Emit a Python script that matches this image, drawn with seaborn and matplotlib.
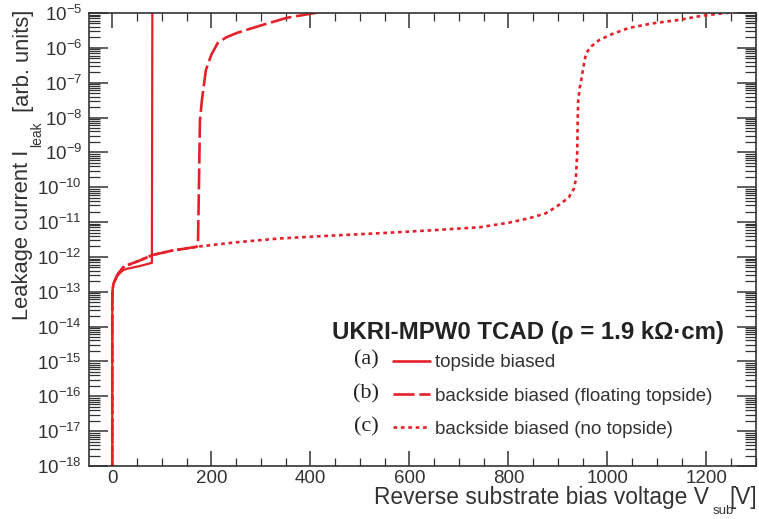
import numpy as np
import pandas as pd
import matplotlib
matplotlib.use("Agg")
import matplotlib.pyplot as plt
import seaborn as sns
from matplotlib.ticker import MultipleLocator, LogLocator, NullFormatter, LogFormatterSciNotation

# ---------------- data ----------------
labels = ["topside biased",
          "backside biased (floating topside)",
          "backside biased (no topside)"]
tags = ["(a)", "(b)", "(c)"]

V_a = [0, 0, 0.5, 1.5, 3, 6, 10, 15, 22, 30, 56, 80, 81]
logI_a = [-18, -13.3, -13.0, -12.85, -12.75, -12.65, -12.55, -12.47, -12.38,
          -12.34, -12.26, -12.17, -4.5]

V_b = [0, 0, 0.5, 1.5, 3, 6, 10, 15, 22, 30, 56, 80, 120, 170, 173, 175, 177,
       181, 189, 200, 213, 230, 252, 304, 352, 409, 440]
logI_b = [-18, -13.3, -13.0, -12.85, -12.75, -12.65, -12.52, -12.42, -12.3,
          -12.24, -12.1, -11.95, -11.82, -11.71, -11.68, -10.0, -8.1, -7.5,
          -6.64, -6.2, -5.86, -5.7, -5.57, -5.34, -5.14, -5.0, -4.95]

V_c = [0, 0, 0.5, 1.5, 3, 6, 10, 15, 22, 30, 56, 80, 120, 170, 250, 338, 440,
       540, 640, 741, 800, 842, 875, 896, 912, 922, 932, 936, 939, 940, 941,
       944, 947, 952, 957, 968, 983, 1010, 1043, 1090, 1144, 1190, 1239, 1280]
logI_c = [-18, -13.3, -13.0, -12.85, -12.75, -12.65, -12.52, -12.42, -12.3,
          -12.24, -12.1, -11.95, -11.82, -11.71, -11.58, -11.47, -11.39, -11.32,
          -11.24, -11.15, -11.02, -10.89, -10.75, -10.57, -10.4, -10.29, -10.05,
          -9.8, -9.0, -8.0, -7.5, -7.15, -6.93, -6.5, -6.15, -5.95, -5.78, -5.6,
          -5.43, -5.3, -5.2, -5.08, -5.0, -4.95]

# ---------------- styling ----------------
sns.set_theme(style="ticks")
plt.rcParams["font.family"] = ["Liberation Sans", "DejaVu Sans"]
plt.rcParams["mathtext.fontset"] = "custom"
plt.rcParams["mathtext.rm"] = "Liberation Sans"
plt.rcParams["mathtext.it"] = "Liberation Sans:italic"
plt.rcParams["mathtext.bf"] = "Liberation Sans:bold"

RED = "#e4212b"
INK = "#333333"

frames = []
for lab, V, L in zip(labels, [V_a, V_b, V_c], [logI_a, logI_b, logI_c]):
    frames.append(pd.DataFrame({"V": V, "I": np.power(10.0, L), "config": lab}))
df = pd.concat(frames, ignore_index=True)

fig = plt.figure(figsize=(7.59, 5.19), dpi=100)
W, H = 759, 519
ax = fig.add_axes([89 / W, 1 - 466 / H, (756 - 89) / W, (466 - 13) / H])

sns.lineplot(data=df, x="V", y="I", hue="config", style="config",
             hue_order=labels, style_order=labels,
             palette={l: RED for l in labels},
             dashes={labels[0]: "", labels[1]: (8.0, 1.8), labels[2]: (1.4, 1.4)},
             sort=False, estimator=None, linewidth=1.9, ax=ax, legend="full")
ax.lines[0].set_linewidth(1.6)

ax.set_yscale("log")
ax.set_xlim(-47, 1300)
ax.set_ylim(1e-18, 1e-5)
ax.set_xlabel("")
ax.set_ylabel("")

ax.xaxis.set_major_locator(MultipleLocator(200))
ax.xaxis.set_minor_locator(MultipleLocator(50))
ax.yaxis.set_major_locator(LogLocator(base=10, numticks=20))
ax.yaxis.set_minor_locator(LogLocator(base=10, subs=np.arange(2, 10), numticks=20))
ax.yaxis.set_minor_formatter(NullFormatter())
ax.yaxis.set_major_formatter(LogFormatterSciNotation())

for s in ax.spines.values():
    s.set_color(INK)
    s.set_linewidth(1.2)
ax.tick_params(axis="both", which="both", direction="in", top=True, right=True,
               color=INK, labelcolor=INK, labelsize=13.5)
ax.tick_params(axis="y", which="major", length=14, width=1.1, pad=5)
ax.tick_params(axis="y", which="minor", length=8, width=0.9)
ax.tick_params(axis="x", which="major", length=11, width=1.1, pad=3)
ax.tick_params(axis="x", which="minor", length=6, width=0.9)


def fx(px):
    return px / W


def fy(py):
    return 1 - py / H


# y-axis title (ROOT style: aligned to the top end, detached subscript)
YFS = 15.8
fig.text(fx(23), fy(320), "Leakage current I", rotation=90, ha="center",
         va="bottom", fontsize=YFS, color=INK)
fig.text(fx(37), fy(134), "leak", rotation=90, ha="center", va="center",
         fontsize=10, color=INK)
fig.text(fx(23), fy(10), "[arb. units]", rotation=90, ha="center", va="top",
         fontsize=YFS, color=INK)

# x-axis title (aligned to the right end, detached subscript)
XFS = 16.4
fig.text(fx(709), fy(504), "Reverse substrate bias voltage V", ha="right",
         va="baseline", fontsize=XFS, color=INK)
fig.text(fx(723), fy(514), "sub", ha="center", va="baseline", fontsize=9.5,
         color=INK)
fig.text(fx(757), fy(504), "[V]", ha="right", va="baseline", fontsize=XFS,
         color=INK)

# legend header
fig.text(fx(332), fy(339), "UKRI-MPW0 TCAD (ρ = 1.9 kΩ·cm)",
         ha="left", va="baseline", fontsize=17.3, fontweight="bold", color="#222222")

handles, labs = ax.get_legend_handles_labels()
leg = ax.legend(handles, labs, loc="upper left",
                bbox_to_anchor=(fx(393), fy(354)), bbox_transform=fig.transFigure,
                frameon=False, fontsize=13.5, handlelength=1.97, handletextpad=0.27,
                labelspacing=0.87, borderpad=0, borderaxespad=0)
for t in leg.get_texts():
    t.set_color(INK)

for tag, yc in zip(tags, [360, 394, 427]):
    fig.text(fx(366), fy(yc), tag, ha="center", va="center",
             fontsize=16, family=["Liberation Serif", "DejaVu Serif"], color="#222222")

fig.savefig("out.png", dpi=100)
